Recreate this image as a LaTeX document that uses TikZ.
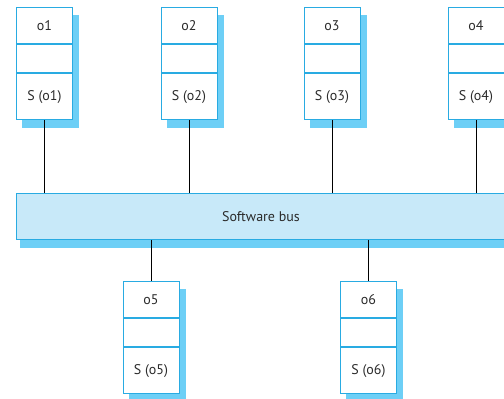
\documentclass[tikz,border=0pt]{standalone}
\usepackage{fontspec}
\setmainfont{PT Sans}
\usetikzlibrary{positioning,backgrounds}

\definecolor{objblue}{HTML}{29ABE2}
\definecolor{busfill}{HTML}{C8E9F9}
\definecolor{shadowblue}{HTML}{6DCFF6}
\definecolor{textgray}{HTML}{2B2B2B}

\begin{document}
\begin{tikzpicture} [
    x=1pt, y=1pt,
    cell/.style      = { rectangle, draw=objblue, fill=white, line width=1pt,
                         minimum width=56pt, inner sep=0pt, text=textgray,
                         font=\fontsize{14}{16}\selectfont },
    namecell/.style  = { cell, minimum height=36pt },
    emptycell/.style = { cell, minimum height=28pt },
    svccell/.style   = { cell, minimum height=46pt },
    busbox/.style    = { rectangle, draw=objblue, fill=busfill, line width=1pt,
                         minimum width=490pt, minimum height=46pt, text=textgray,
                         font=\fontsize{14}{16}\selectfont },
    line/.style      = { draw, black, line width=0.6pt },
  ]

  \useasboundingbox (0,0) rectangle (504,399);

  % the bus
  \node[busbox] (bus) at (261,182) {Software bus};

  % objects above the bus
  \foreach \i/\x in {1/44.5, 2/189, 3/332, 4/476} {
    \node[namecell] (o\i) at (\x,373) {o\i};
    \node[emptycell, below=0pt of o\i] (e\i) {};
    \node[svccell, below=0pt of e\i] (s\i) {S (o\i)};
    \path [line] (s\i) -- (s\i |- bus.north);
  }

  % objects below the bus
  \foreach \i/\x in {5/151, 6/368.5} {
    \node[namecell] (o\i) at (\x,99) {o\i};
    \node[emptycell, below=0pt of o\i] (e\i) {};
    \node[svccell, below=0pt of e\i] (s\i) {S (o\i)};
    \path [line] (bus.south -| o\i) -- (o\i);
  }

  % shadows
  \begin{scope}[on background layer]
    \foreach \i in {1,...,6}
      \fill[shadowblue] ([shift={(6,-8)}]o\i.north west) rectangle ([shift={(6,-8)}]s\i.south east);
    \fill[shadowblue] ([shift={(4,-8)}]bus.north west) rectangle ([shift={(4,-8)}]bus.south east);
  \end{scope}
\end{tikzpicture}
\end{document}
